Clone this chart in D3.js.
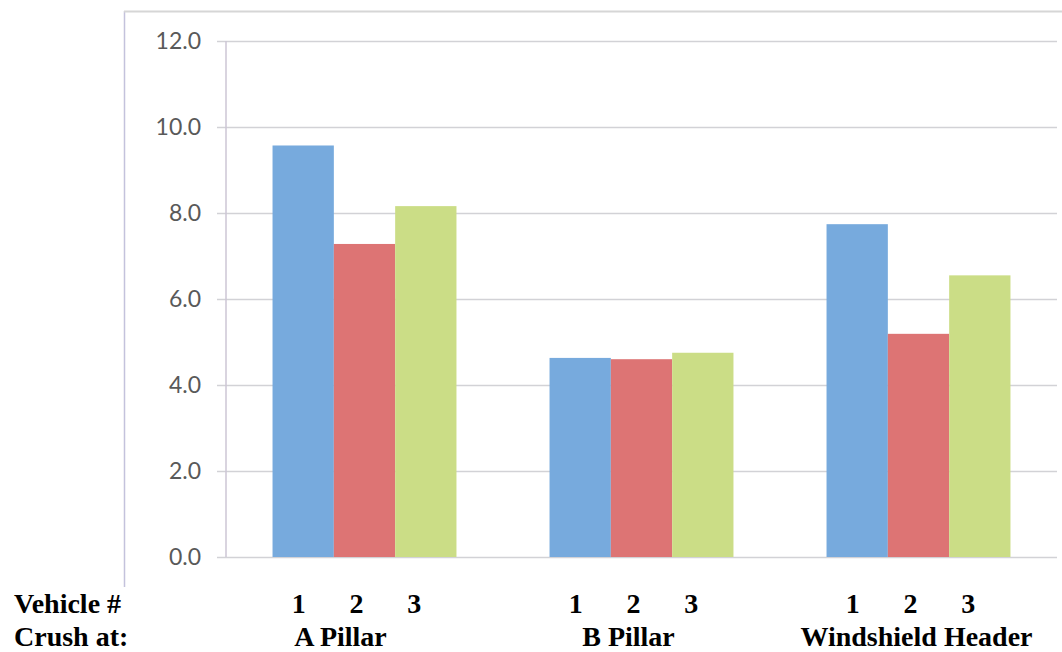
<!DOCTYPE html>
<html>
<head>
<meta charset="utf-8">
<script src="https://cdn.jsdelivr.net/npm/d3@7"></script>
<style>
  html, body { margin: 0; padding: 0; background: #fff; }
  svg { display: block; }
</style>
</head>
<body>
<svg id="chart" width="1062" height="652"></svg>
<script>
// Crush measurements per location, one series per vehicle
const categories = ["A Pillar", "B Pillar", "Windshield Header"];
const vehicles = ["1", "2", "3"];
const vehicle1 = [9.57, 4.63, 7.74];
const vehicle2 = [7.28, 4.60, 5.19];
const vehicle3 = [8.16, 4.75, 6.55];
const yTicks = [0, 2, 4, 6, 8, 10, 12];

const series = [vehicle1, vehicle2, vehicle3];
const colors = ["#77aadd", "#dd7474", "#cbdd86"];

const svg = d3.select("#chart");
const plot = { left: 226, right: 1057, top: 41, bottom: 557 };

// outer chart frame (left and top edges)
svg.append("line").attr("x1", 124.5).attr("x2", 124.5).attr("y1", 11).attr("y2", 587)
  .attr("stroke", "#c4c2dc").attr("stroke-width", 1.5);
svg.append("line").attr("x1", 124).attr("x2", 1062).attr("y1", 11.5).attr("y2", 11.5)
  .attr("stroke", "#d6d6d6").attr("stroke-width", 2);

const y = d3.scaleLinear().domain([0, 12]).range([plot.bottom, plot.top]);
const x0 = d3.scaleBand().domain(categories).range([plot.left, plot.right])
  .paddingInner(0.336).paddingOuter(0.168);
const x1 = d3.scaleBand().domain(vehicles).range([0, x0.bandwidth()]);

// gridlines with short tick stubs left of the axis
const yAxis = d3.axisLeft(y).tickValues(yTicks)
  .tickSize(-(plot.right - plot.left + 9))
  .tickFormat(d3.format(".1f"));
const gy = svg.append("g").attr("transform", `translate(${plot.left - 9},0)`).call(yAxis);
gy.select(".domain").remove();
gy.selectAll(".tick line").attr("stroke", "#d2d2d6").attr("stroke-width", 1.5);
gy.selectAll(".tick text")
  .attr("x", -16)
  .attr("fill", "#595959")
  .style("font-family", "Lato, 'Open Sans', sans-serif")
  .style("font-size", "23px");

// vertical axis line
svg.append("line").attr("x1", plot.left).attr("x2", plot.left)
  .attr("y1", plot.top).attr("y2", plot.bottom)
  .attr("stroke", "#cdc6d4").attr("stroke-width", 1.5);

// bars
const groups = svg.append("g").selectAll("g").data(categories).join("g")
  .attr("transform", d => `translate(${x0(d)},0)`);
groups.selectAll("rect")
  .data((c, ci) => vehicles.map((v, vi) => ({ v, vi, value: series[vi][ci] })))
  .join("rect")
  .attr("x", d => x1(d.v))
  .attr("width", x1.bandwidth())
  .attr("y", d => y(d.value))
  .attr("height", d => y(0) - y(d.value))
  .attr("fill", d => colors[d.vi]);

// bottom labels
const labelFont = "'Liberation Serif', 'Times New Roman', serif";
const rowVehicle = 613, rowCrush = 646;
const txt = (x, yy, s, anchor) => svg.append("text")
  .attr("x", x).attr("y", yy).attr("text-anchor", anchor || "middle")
  .style("font-family", labelFont).style("font-weight", "bold")
  .style("font-size", "28px").attr("fill", "#000").text(s);

txt(14, rowVehicle, "Vehicle #", "start");
txt(14, rowCrush, "Crush at:", "start");

const labelNudge = [-24, -13, -2];
categories.forEach((c, ci) => {
  const gc = x0(c) + x0.bandwidth() / 2;
  vehicles.forEach(v => {
    const bc = x0(c) + x1(v) + x1.bandwidth() / 2;
    txt(gc + (bc - gc) * 0.94 - 8, rowVehicle, v);
  });
  txt(gc + labelNudge[ci], rowCrush, c);
});
</script>
</body>
</html>
